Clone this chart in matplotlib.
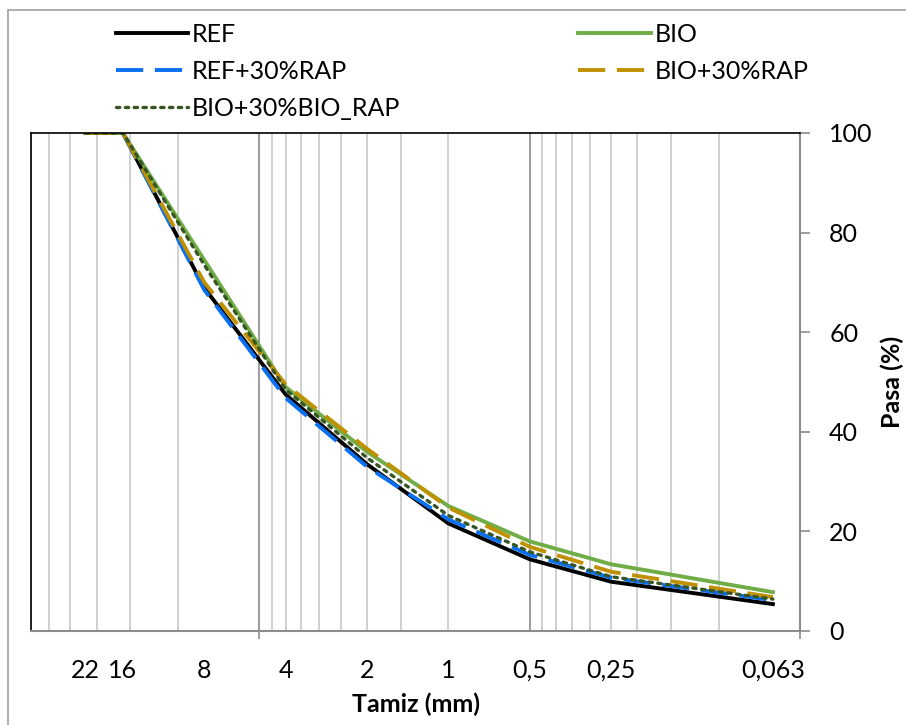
import matplotlib
matplotlib.use('Agg')
import matplotlib.pyplot as plt
from matplotlib.patches import Rectangle

# sieve sizes (mm) and passing (%)
sieves = [22, 16, 8, 4, 2, 1, 0.5, 0.25, 0.063]
sieve_labels = ['22', '16', '8', '4', '2', '1', '0,5', '0,25', '0,063']
ref = [100, 100, 68.9, 47.5, 33.5, 21.6, 14.4, 9.9, 5.4]
bio = [100, 100, 74.5, 49.0, 36.0, 25.1, 18.0, 13.4, 7.8]
ref_rap = [100, 100, 68.5, 46.8, 33.0, 22.4, 15.3, 10.7, 6.2]
bio_rap = [100, 100, 70.0, 49.5, 36.6, 24.8, 16.9, 11.9, 6.8]
bio_bio_rap = [100, 100, 73.5, 48.5, 34.8, 23.2, 15.9, 10.9, 6.4]

plt.rcParams['font.family'] = ['Lato', 'DejaVu Sans']
FS = 18

fig = plt.figure(figsize=(9.06, 7.25), dpi=100)
ax = fig.add_axes([31/906, 1 - 631/725, (800 - 31)/906, (631 - 133)/725])

# grid lines of the log axis
minor_grid = [k * m for m in (0.05, 0.5, 5) for k in range(2, 10)] + [35]
for g in minor_grid:
    ax.axvline(g, color='#c8c8c8', lw=1.2, zorder=0)
for g in (0.5, 5):
    ax.axvline(g, color='#8c8c8c', lw=1.2, zorder=0)

lw = 2.8
ax.plot(sieves, ref, color='black', lw=lw, label='REF')
ax.plot(sieves, bio, color='#70AD47', lw=lw, label='BIO')
ax.plot(sieves, ref_rap, color='#0A70F0', lw=lw, dashes=(7, 3), label='REF+30%RAP')
ax.plot(sieves, bio_rap, color='#BF9000', lw=lw, dashes=(7, 3), label='BIO+30%RAP')
ax.plot(sieves, bio_bio_rap, color='#375623', lw=2.4, ls=':', dash_capstyle='round',
        label='BIO+30%BIO_RAP')

ax.set_xscale('log')
ax.set_xlim(35, 0.05)
ax.set_ylim(0, 100)

ax.set_xticks(sieves)
ax.set_xticklabels(sieve_labels)
ax.set_xticks([0.05, 0.5, 5], minor=True)
ax.xaxis.set_minor_formatter(plt.NullFormatter())
ax.tick_params(axis='x', which='major', length=0, pad=20, labelsize=FS)
ax.tick_params(axis='x', which='minor', length=6, width=1.2, color='#8c8c8c')

ax.yaxis.tick_right()
ax.yaxis.set_label_position('right')
ax.set_yticks([0, 20, 40, 60, 80, 100])
ax.tick_params(axis='y', length=7, width=1.2, color='#8c8c8c', pad=14, labelsize=FS)

ax.set_xlabel('Tamiz (mm)', fontsize=FS, fontweight='bold', labelpad=8)
ax.set_ylabel('Pasa (%)', fontsize=FS, fontweight='bold', labelpad=6)

for s in ('top', 'left'):
    ax.spines[s].set_color('black')
    ax.spines[s].set_linewidth(1.2)
for s in ('bottom', 'right'):
    ax.spines[s].set_color('#8c8c8c')
    ax.spines[s].set_linewidth(1.5)

h, l = ax.get_legend_handles_labels()
order = [0, 2, 4, 1, 3]
fig.legend([h[i] for i in order], [l[i] for i in order], loc='upper left',
           bbox_to_anchor=(116/906, 1 - 23/725), ncol=2, frameon=False,
           fontsize=FS, handlelength=2.9, handletextpad=0.15,
           columnspacing=7.1, labelspacing=0.55, borderaxespad=0, borderpad=0)

# outer chart frame
fig.patches.append(Rectangle((8/906, -0.1), 1.2, 1 - 10/725 + 0.1,
                             transform=fig.transFigure, fill=False,
                             edgecolor='#a0a0a0', lw=1.2))

fig.savefig('out.png', dpi=100)
